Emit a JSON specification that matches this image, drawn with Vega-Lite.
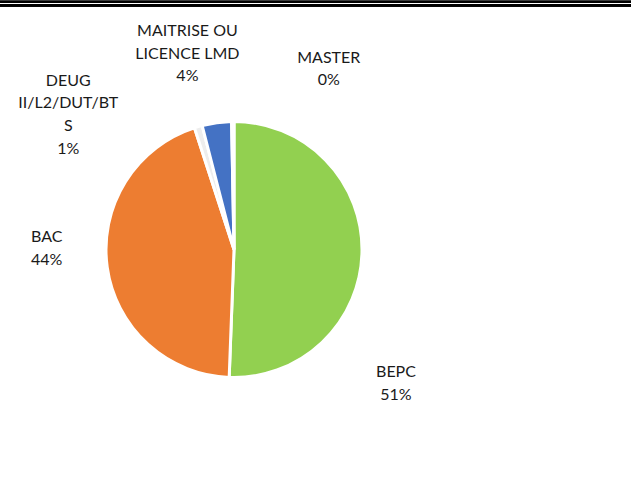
{
  "$schema": "https://vega.github.io/schema/vega-lite/v6.json",
  "autosize": "none",
  "width": 468,
  "height": 499,
  "padding": {"left": 0, "top": 0, "right": 163, "bottom": 0},
  "background": "white",
  "config": {"view": {"stroke": null}},
  "data": {
    "values": [
      {"cat": "BEPC", "ord": 1, "value": 50.6, "label": "BEPC\n51%"},
      {"cat": "BAC", "ord": 2, "value": 44.4, "label": "BAC\n44%"},
      {"cat": "DEUG II/L2/DUT/BTS", "ord": 3, "value": 1.0, "label": "DEUG\nII/L2/DUT/BT\nS\n1%"},
      {"cat": "MAITRISE OU LICENCE LMD", "ord": 4, "value": 3.7, "label": "MAITRISE OU\nLICENCE LMD\n4%"},
      {"cat": "MASTER", "ord": 5, "value": 0.3, "label": "MASTER\n0%"}
    ]
  },
  "encoding": {
    "theta": {"field": "value", "type": "quantitative", "stack": true},
    "order": {"field": "ord", "type": "quantitative"}
  },
  "layer": [
    {
      "mark": {"type": "arc", "outerRadius": 128, "stroke": "white", "strokeWidth": 3},
      "encoding": {
        "color": {
          "field": "cat", "type": "nominal", "legend": null,
          "scale": {
            "domain": ["BEPC", "BAC", "DEUG II/L2/DUT/BTS", "MAITRISE OU LICENCE LMD", "MASTER"],
            "range": ["#92D050", "#ED7D31", "#EDEDED", "#4472C4", "#A5A5A5"]
          }
        }
      }
    },
    {
      "mark": {"type": "text", "radius": 127, "dx": 35, "dy": 120.5, "font": "Lato", "fontSize": 16, "lineHeight": 22.5, "lineBreak": "\n", "align": "center", "baseline": "middle", "color": "#1a1a1a"},
      "encoding": {"detail": {"field": "cat"}, "text": {"condition": {"test": "datum.cat === 'BEPC'", "field": "label"}, "value": ""}}
    },
    {
      "mark": {"type": "text", "radius": 127, "dx": -61.5, "dy": -29.5, "font": "Lato", "fontSize": 16, "lineHeight": 22.5, "lineBreak": "\n", "align": "center", "baseline": "middle", "color": "#1a1a1a"},
      "encoding": {"detail": {"field": "cat"}, "text": {"condition": {"test": "datum.cat === 'BAC'", "field": "label"}, "value": ""}}
    },
    {
      "mark": {"type": "text", "radius": 127, "dx": -130.3, "dy": -47, "font": "Lato", "fontSize": 16, "lineHeight": 22.8, "lineBreak": "\n", "align": "center", "baseline": "middle", "color": "#1a1a1a"},
      "encoding": {"detail": {"field": "cat"}, "text": {"condition": {"test": "datum.cat === 'DEUG II/L2/DUT/BTS'", "field": "label"}, "value": ""}}
    },
    {
      "mark": {"type": "text", "radius": 127, "dx": -29.5, "dy": -92.3, "font": "Lato", "fontSize": 16, "lineHeight": 22.2, "lineBreak": "\n", "align": "center", "baseline": "middle", "color": "#1a1a1a"},
      "encoding": {"detail": {"field": "cat"}, "text": {"condition": {"test": "datum.cat === 'MAITRISE OU LICENCE LMD'", "field": "label"}, "value": ""}}
    },
    {
      "mark": {"type": "text", "radius": 127, "dx": 96, "dy": -64.5, "font": "Lato", "fontSize": 16, "lineHeight": 21.7, "lineBreak": "\n", "align": "center", "baseline": "middle", "color": "#1a1a1a"},
      "encoding": {"detail": {"field": "cat"}, "text": {"condition": {"test": "datum.cat === 'MASTER'", "field": "label"}, "value": ""}}
    },
    {
      "mark": {"type": "rule", "color": "black", "strokeWidth": 2},
      "encoding": {"theta": null, "order": null, "x": {"value": 0}, "x2": {"value": 631}, "y": {"value": 1.8}}
    },
    {
      "mark": {"type": "rule", "color": "black", "strokeWidth": 2.5},
      "encoding": {"theta": null, "order": null, "x": {"value": 0}, "x2": {"value": 631}, "y": {"value": 5.2}}
    }
  ]
}
